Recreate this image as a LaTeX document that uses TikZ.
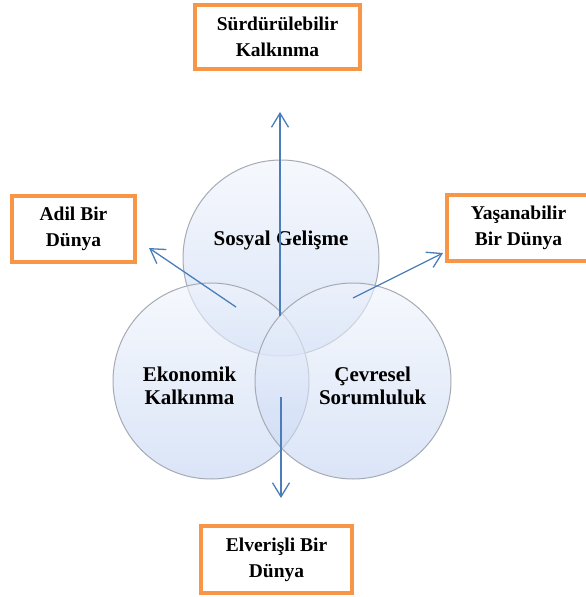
\documentclass[tikz,border=0pt]{standalone}
\usepackage{fontspec}
\setmainfont{Liberation Serif}
\usetikzlibrary{arrows.meta}
\definecolor{boxorange}{RGB}{247,150,70}
\definecolor{arrowblue}{RGB}{74,126,187}
\definecolor{ringgray}{RGB}{165,170,180}
\definecolor{circlow}{RGB}{195,212,243}
\definecolor{circtop}{RGB}{240,244,252}
\tikzset{
  venn/.style={circle, minimum size=196pt, inner sep=0pt, draw=ringgray, line width=1pt,
    top color=circtop, bottom color=circlow, fill opacity=0.6, draw opacity=1, text opacity=1},
  vlabel/.style={font=\bfseries\fontsize{21}{23}\selectfont, align=center, text=black},
  goalbox/.style={draw=boxorange, line width=4pt, fill=white, align=center, inner sep=0pt,
    font=\bfseries\fontsize{19.5}{26}\selectfont},
  flow/.style={draw=arrowblue, line width=1.3pt, -{Straight Barb[length=14pt,width=17pt,line width=1.3pt]}}
}
\begin{document}
\begin{tikzpicture}[x=1pt,y=-1pt]
\useasboundingbox (0,0) rectangle (586,597);
\fill[white] (0,0) rectangle (586,597);
% circles
\node[venn] (soc) at (281,258) {};
\node[venn] (eco) at (211,381) {};
\node[venn] (env) at (353,381) {};
% labels
\node[vlabel] (socl) at (281,240) {Sosyal Gelişme};
\node[vlabel] (ecol) at (189.5,386) {Ekonomik\\Kalkınma};
\node[vlabel] (envl) at (372.7,386) {Çevresel\\Sorumluluk};
% boxes
\node[goalbox, minimum width=165pt, minimum height=64pt] (top) at (277.5,37) {Sürdürülebilir\\Kalkınma};
\node[goalbox, minimum width=123pt, minimum height=66pt] (left) at (73.5,229) {Adil Bir\\Dünya};
\node[goalbox, minimum width=143pt, minimum height=66pt] (right) at (518.5,228) {Yaşanabilir\\Bir Dünya};
\node[goalbox, minimum width=151pt, minimum height=67pt] (bottom) at (276.5,559.5) {Elverişli Bir\\Dünya};
% arrow endpoints
\coordinate (c0) at (280,316);
\coordinate (c1) at (280,112);
\coordinate (l0) at (236,307);
\coordinate (l1) at (149,248);
\coordinate (r0) at (353,298);
\coordinate (r1) at (443,253);
\coordinate (b0) at (281,397);
\coordinate (b1) at (281,498);
\draw[flow] (c0) -- (c1);
\draw[flow] (l0) -- (l1);
\draw[flow] (r0) -- (r1);
\draw[flow] (b0) -- (b1);
\end{tikzpicture}
\end{document}
